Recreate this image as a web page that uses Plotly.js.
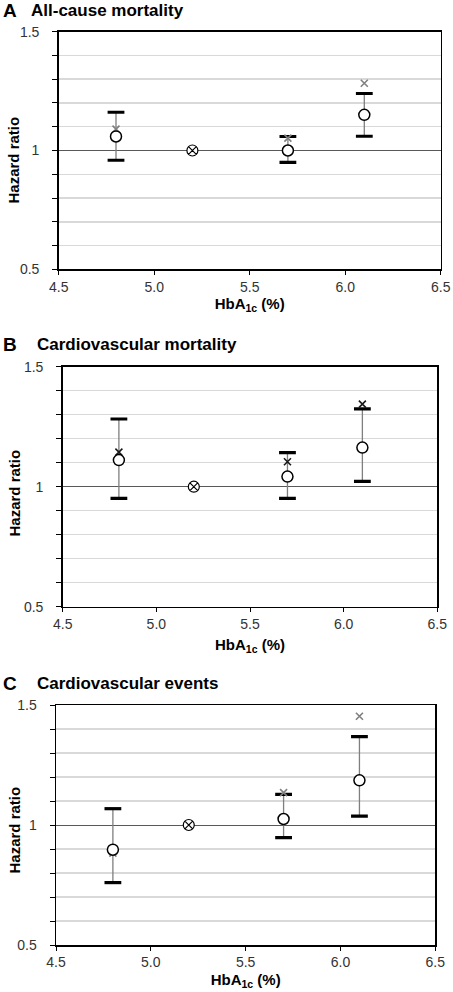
<!DOCTYPE html>
<html>
<head>
<meta charset="utf-8">
<script src="https://cdn.plot.ly/plotly-3.0.1.min.js"></script>
<style>html,body{margin:0;padding:0;background:#fff;}#chart{width:453px;height:992px;}</style>
</head>
<body>
<div id="chart"></div>
<script>
// HbA1c categories (x positions, %)
const hba1c = [4.8, 5.2, 5.7, 6.1];

// Panel A: All-cause mortality
const hrA    = [1.059, 1.0, 1.0, 1.150];
const lowA   = [0.959, null, 0.950, 1.060];
const upA    = [1.161, null, 1.059, 1.240];
const crossA = [1.090, 1.0, 1.052, 1.283];

// Panel B: Cardiovascular mortality
const hrB    = [1.111, 1.0, 1.042, 1.163];
const lowB   = [0.951, null, 0.951, 1.022];
const upB    = [1.282, null, 1.142, 1.324];
const crossB = [1.144, 1.0, 1.104, 1.344];

// Panel C: Cardiovascular events
const hrC    = [0.897, 1.0, 1.025, 1.186];
const lowC   = [0.760, null, 0.947, 1.037];
const upC    = [1.068, null, 1.128, 1.368];
const crossC = [0.883, 1.0, 1.135, 1.453];

// tick labels
const yMajorVals = [0.5, 1.0, 1.5];
const yMajorText = ['0.5', '1', '1.5'];
const yMinorVals = [0.6, 0.7, 0.8, 0.9, 1.1, 1.2, 1.3, 1.4];
const xTickVals = [4.5, 5.0, 5.5, 6.0, 6.5];
const xTickText = ['4.5', '5.0', '5.5', '6.0', '6.5'];

const panels = [
  {letter:'A', title:'All-cause mortality', hr:hrA, low:lowA, up:upA, cross:crossA, crossColor:'#808080'},
  {letter:'B', title:'Cardiovascular mortality', hr:hrB, low:lowB, up:upB, cross:crossB, crossColor:'#1a1a1a'},
  {letter:'C', title:'Cardiovascular events', hr:hrC, low:lowC, up:upC, cross:crossC, crossColor:'#808080'}
];

// pixel geometry of each plot area [x0, x1, yTop, yBottom]
const W = 453, H = 992;
const geo = [
  [58.7, 440.7, 31.7, 269.3],
  [62.7, 437.3, 366.7, 606.7],
  [56.0, 435.3, 705.0, 945.0]
];
const titleY = [10, 344, 683];
const yTitleY = [160, 493, 830];
const xTitleStandoff = [4, 8, 5];

const FONT = 'Liberation Sans, Arial, sans-serif';
const traces = [];
const layout = {
  width: W, height: H,
  margin: {l:0, r:0, t:0, b:0},
  paper_bgcolor: '#fff', plot_bgcolor: '#fff',
  showlegend: false,
  font: {family: FONT, size: 14, color: '#333'},
  annotations: []
};

panels.forEach((p, i) => {
  const n = i === 0 ? '' : String(i + 1);
  const xa = 'x' + n, ya = 'y' + n;
  const g = geo[i];
  const symbols = p.hr.map((v, k) => p.up[k] === null ? 'circle-x' : 'circle');
  const lineW = p.hr.map((v, k) => p.up[k] === null ? 1.2 : 1.5);

  // stems (error bars)
  traces.push({
    type: 'scatter', mode: 'markers', x: hba1c, y: p.hr, xaxis: xa, yaxis: ya,
    marker: {size: 1, color: 'rgba(0,0,0,0)'}, hoverinfo: 'skip',
    error_y: {
      type: 'data', symmetric: false,
      array: p.hr.map((v, k) => p.up[k] === null ? 0 : p.up[k] - v),
      arrayminus: p.hr.map((v, k) => p.low[k] === null ? 0 : v - p.low[k]),
      color: '#7f7f7f', thickness: 1.3, width: 0
    }
  });
  // caps (lower & upper CI limits)
  traces.push({
    type: 'scatter', mode: 'markers', x: hba1c.concat(hba1c), y: p.low.concat(p.up),
    xaxis: xa, yaxis: ya,
    marker: {symbol: 'line-ew', size: 12, color: '#000', line: {width: 3.2, color: '#000'}}
  });
  // cross markers
  traces.push({
    type: 'scatter', mode: 'markers', x: hba1c, y: p.cross, xaxis: xa, yaxis: ya,
    marker: {symbol: 'x-thin-open', size: 7, color: p.crossColor, line: {width: 1.6, color: p.crossColor}}
  });
  // circles
  traces.push({
    type: 'scatter', mode: 'markers', x: hba1c, y: p.hr, xaxis: xa, yaxis: ya,
    marker: {symbol: symbols, size: 11, color: '#fff', line: {width: lineW, color: '#000'}}
  });

  layout['xaxis' + n] = {
    domain: [g[0] / W, g[1] / W], anchor: ya,
    range: [4.5, 6.5], tickmode: 'array', tickvals: xTickVals, ticktext: xTickText,
    showgrid: false, zeroline: false,
    showline: true, linecolor: '#000', linewidth: 1.5, mirror: true,
    ticks: 'outside', ticklen: 4, tickcolor: '#000', tickwidth: 1,
    tickfont: {family: FONT, size: 14, color: '#333'}, ticklabelstandoff: 0,
    title: {text: '<b>HbA<sub>1c</sub> (%)</b>', font: {family: FONT, size: 15, color: '#000'}, standoff: xTitleStandoff[i]}
  };
  layout['yaxis' + n] = {
    domain: [1 - g[3] / H, 1 - g[2] / H], anchor: xa,
    range: [0.5, 1.5], tickmode: 'array', tickvals: yMajorVals, ticktext: yMajorText,
    showgrid: true, gridcolor: '#595959', gridwidth: 1, zeroline: false,
    showline: true, linecolor: '#000', linewidth: 1.5, mirror: true,
    ticks: 'outside', ticklen: 5, tickcolor: '#000', tickwidth: 1,
    minor: {tickmode: 'array', tickvals: yMinorVals, ticks: 'outside', ticklen: 5,
            tickcolor: '#000', tickwidth: 1, showgrid: true, gridcolor: '#d9d9d9', gridwidth: 1.5},
    tickfont: {family: FONT, size: 14, color: '#333'}, ticklabelstandoff: 10
  };
  // y-axis title
  layout.annotations.push({
    xref: 'paper', yref: 'paper', x: 13.5 / W, y: 1 - yTitleY[i] / H,
    xanchor: 'center', yanchor: 'middle', showarrow: false, textangle: -90,
    text: '<b>Hazard ratio</b>', font: {family: FONT, size: 15, color: '#000'}
  });
  // panel letter and title
  layout.annotations.push({
    xref: 'paper', yref: 'paper', x: 1 / W, y: 1 - titleY[i] / H,
    xanchor: 'left', yanchor: 'middle', showarrow: false,
    text: '<b>' + p.letter + '</b>', font: {family: FONT, size: 19, color: '#000'}
  });
  layout.annotations.push({
    xref: 'paper', yref: 'paper', x: (i === 0 ? 29 : 35) / W, y: 1 - titleY[i] / H,
    xanchor: 'left', yanchor: 'middle', showarrow: false,
    text: '<b>' + p.title + '</b>', font: {family: FONT, size: 17, color: '#000'}
  });
});

Plotly.newPlot('chart', traces, layout, {staticPlot: true, displayModeBar: false});
</script>
</body>
</html>
